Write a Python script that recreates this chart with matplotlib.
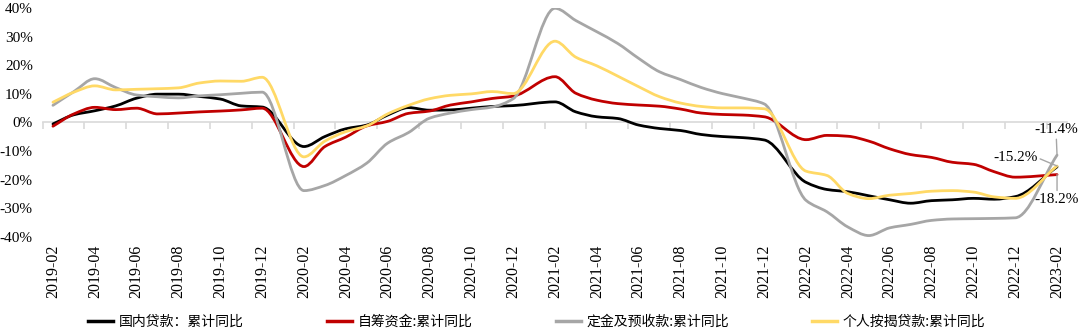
import numpy as np
import pandas as pd
import matplotlib
matplotlib.use('Agg')
import matplotlib.pyplot as plt
import matplotlib.transforms as mtransforms
from matplotlib.path import Path
from matplotlib.patches import PathPatch
from matplotlib.lines import Line2D

# month axis: every month from 2019-02 to 2023-02 (January not published)
axis_months = pd.period_range('2019-02', '2023-02', freq='M')
data_months = [m for m in axis_months if m.month != 1]

domestic_loans = [-0.5, 2.7, 4.1, 5.8, 8.5, 9.9, 9.9, 9.1, 8.2, 5.8, 5.4,
                  -8.4, -4.9, -2.2, -0.9, 2.6, 5.2, 4.3, 4.4, 5.0, 5.6, 5.9,
                  7.2, 3.7, 2.0, 1.4, -0.9, -2.1, -2.8, -4.2, -4.9, -5.3, -6.1,
                  -20.9, -23.4, -24.2, -25.6, -27.0, -28.2, -27.3, -27.0, -26.5, -26.8, -25.9,
                  -15.5]
self_raised = [-1.3, 3.0, 5.3, 4.5, 5.0, 3.0, 3.3, 3.7, 4.0, 4.4, 5.0,
               -15.4, -8.4, -5.1, -1.2, 0.4, 3.2, 4.0, 6.1, 7.2, 8.4, 9.2,
               16.0, 10.2, 7.8, 6.6, 6.1, 5.7, 4.7, 3.3, 2.8, 2.6, 2.0,
               -6.0, -4.5, -4.8, -6.5, -9.2, -11.2, -12.2, -13.9, -14.6, -17.2, -19.1,
               -18.2]
deposits = [6.0, 10.8, 15.3, 12.2, 9.6, 9.0, 8.6, 9.3, 9.7, 10.2, 10.6,
            -23.8, -22.0, -18.5, -14.2, -7.2, -3.5, 1.5, 3.3, 4.5, 5.4, 8.3,
            39.9, 35.6, 31.7, 27.6, 22.4, 17.7, 15.0, 12.2, 10.1, 8.5, 6.5,
            -27.2, -31.2, -36.5, -39.5, -36.8, -35.6, -34.2, -33.7, -33.6, -33.5, -33.3,
            -11.4]
mortgages = [7.1, 10.6, 12.8, 11.4, 11.6, 11.8, 12.1, 13.8, 14.5, 14.4, 15.8,
             -12.0, -6.5, -3.2, -1.2, 3.0, 6.0, 8.3, 9.5, 10.0, 10.8, 10.1,
             28.4, 22.8, 19.8, 16.2, 12.5, 9.0, 6.8, 5.6, 5.1, 5.1, 4.8,
             -17.0, -18.5, -24.8, -26.6, -25.4, -24.8, -24.0, -23.8, -24.3, -26.0, -26.5,
             -15.2]

series_names = ['国内贷款：累计同比', '自筹资金:累计同比', '定金及预收款:累计同比', '个人按揭贷款:累计同比']
series_colors = ['#000000', '#C00000', '#A6A6A6', '#FFD966']
tick_labels = [str(m) for m in axis_months[::2]]

serif = ['Liberation Serif', 'DejaVu Serif']
cjk = ['Noto Sans CJK SC', 'DejaVu Sans']

pos = {m: i for i, m in enumerate(axis_months)}
x = [pos[m] for m in data_months]


def smooth_path(xs, ys):
    # smoothed line through every data point, no overshoot (monotone tangents)
    xs = np.asarray(xs, float)
    ys = np.asarray(ys, float)
    h = np.diff(xs)
    d = np.diff(ys) / h
    n = len(xs)
    m = np.zeros(n)
    m[0], m[-1] = d[0], d[-1]
    for k in range(1, n - 1):
        if d[k - 1] * d[k] > 0:
            w1 = 2 * h[k] + h[k - 1]
            w2 = h[k] + 2 * h[k - 1]
            m[k] = (w1 + w2) / (w1 / d[k - 1] + w2 / d[k])
    verts = [(xs[0], ys[0])]
    codes = [Path.MOVETO]
    for k in range(n - 1):
        verts += [(xs[k] + h[k] / 3, ys[k] + m[k] * h[k] / 3),
                  (xs[k + 1] - h[k] / 3, ys[k + 1] - m[k + 1] * h[k] / 3),
                  (xs[k + 1], ys[k + 1])]
        codes += [Path.CURVE4] * 3
    return Path(verts, codes)


fig = plt.figure(figsize=(10.8, 3.33), dpi=100)
ax = fig.add_axes([42.5 / 1080, 96 / 333, 1025 / 1080, 229 / 333])

handles = []
for vals, name, col in zip([domestic_loans, self_raised, deposits, mortgages],
                           series_names, series_colors):
    ax.add_patch(PathPatch(smooth_path(x, vals), facecolor='none', edgecolor=col,
                           lw=2.0, zorder=3, capstyle='round', joinstyle='round'))
    handles.append(Line2D([], [], color=col, lw=2.5, label=name))

ax.set_xlim(-0.5, len(axis_months) - 0.5)
ax.set_ylim(-40, 40)
ax.set_yticks(np.arange(-40, 41, 10))
ax.set_yticklabels([f'{v}%' for v in range(-40, 41, 10)], fontfamily=serif, fontsize=11)
ax.tick_params(axis='y', length=0, pad=7)

for s in ['top', 'right', 'left']:
    ax.spines[s].set_visible(False)
ax.spines['bottom'].set_position(('data', 0))
ax.spines['bottom'].set_color('#D9D9D9')
ax.spines['bottom'].set_linewidth(1.2)
ax.set_xticks(np.arange(-0.5, len(axis_months), 2))
ax.set_xticklabels([])
ax.tick_params(axis='x', direction='out', length=5, color='#D9D9D9', width=1.2)

# category labels sit below the plot area
trans = mtransforms.blended_transform_factory(ax.transData, ax.transAxes)
for i, lab in zip(range(0, len(axis_months), 2), tick_labels):
    ax.text(i, -0.035, lab, transform=trans, rotation=90, ha='center', va='top',
            fontfamily=serif, fontsize=11.5, color='#000000')

# end-point labels with leader lines
last = len(axis_months) - 1
lead = dict(arrowstyle='-', color='#A6A6A6', lw=1.0, shrinkA=0, shrinkB=0)
ax.annotate('-11.4%', xy=(last, deposits[-1]), xytext=(47.95, -2.6),
            ha='center', va='center', fontfamily=serif, fontsize=11,
            arrowprops=lead, annotation_clip=False)
ax.annotate('-15.2%', xy=(last, mortgages[-1]), xytext=(46.0, -12.3),
            ha='center', va='center', fontfamily=serif, fontsize=11,
            arrowprops=dict(lead, relpos=(1, 0.5)), annotation_clip=False)
ax.annotate('-18.2%', xy=(last, self_raised[-1]), xytext=(48.0, -27.0),
            ha='center', va='center', fontfamily=serif, fontsize=11,
            arrowprops=dict(lead, relpos=(0.5, 1)), annotation_clip=False)

fig.legend(handles=handles, loc='center', bbox_to_anchor=(0.497, 1 - 322 / 333), ncol=4,
           frameon=False, prop={'family': cjk, 'size': 10}, handlelength=1.8,
           handletextpad=0.4, columnspacing=6.0)

fig.savefig('out.png', dpi=100)
